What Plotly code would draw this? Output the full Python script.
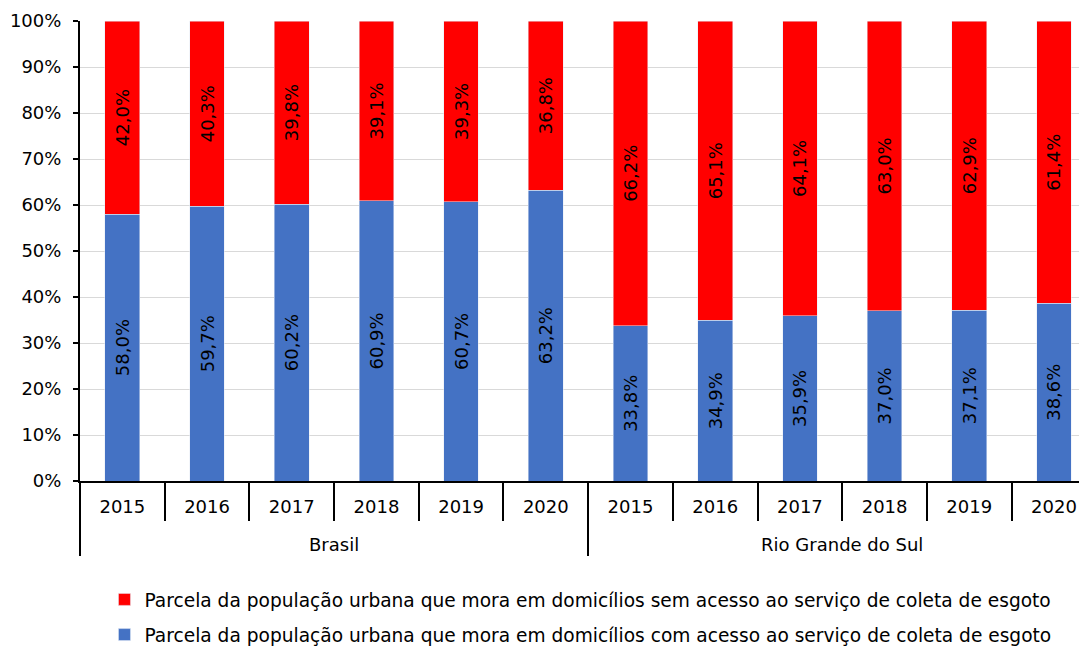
import plotly.graph_objects as go

# "<br>" puts the group label one line lower, as in the reference
regions = ["<br>Brasil"] * 6 + ["<br>Rio Grande do Sul"] * 6
years = ["2015", "2016", "2017", "2018", "2019", "2020"] * 2

com_acesso = [58.0, 59.7, 60.2, 60.9, 60.7, 63.2, 33.8, 34.9, 35.9, 37.0, 37.1, 38.6]
sem_acesso = [42.0, 40.3, 39.8, 39.1, 39.3, 36.8, 66.2, 65.1, 64.1, 63.0, 62.9, 61.4]

nome_com = "Parcela da população urbana que mora em domicílios com acesso ao serviço de coleta de esgoto"
nome_sem = "Parcela da população urbana que mora em domicílios sem acesso ao serviço de coleta de esgoto"

FONT = "DejaVu Sans"

fig = go.Figure()
fig.add_trace(go.Bar(
    x=[regions, years], y=com_acesso, name=nome_com, legendgroup="com", legendrank=2,
    marker=dict(color="#4472C4"),
    texttemplate="%{y:.1f}%", textposition="inside", textangle=-90,
    insidetextanchor="middle", textfont=dict(color="black", size=18, family=FONT),
))
fig.add_trace(go.Bar(
    x=[regions, years], y=sem_acesso, name=nome_sem, legendgroup="sem", legendrank=1,
    marker=dict(color="#FF0000"),
    texttemplate="%{y:.1f}%", textposition="inside", textangle=-90,
    insidetextanchor="middle", textfont=dict(color="black", size=18, family=FONT),
))

# the page body has an 8px margin, so the figure is sized/offset to compensate
fig.update_layout(
    barmode="stack",
    bargap=0.59,
    separators=",.",
    width=1079, height=638,
    margin=dict(l=72, r=0, t=13, b=165, autoexpand=False),
    plot_bgcolor="white", paper_bgcolor="white",
    font=dict(family=FONT, size=18, color="black"),
    legend=dict(
        orientation="v", traceorder="grouped", tracegroupgap=8,
        x=0.497, xanchor="center", y=-0.217, yanchor="top",
        font=dict(size=18.6, family=FONT), itemwidth=30,
    ),
)
fig.update_yaxes(
    range=[0, 100], dtick=10, ticksuffix="%",
    showgrid=True, gridcolor="#D9D9D9", gridwidth=1,
    showline=True, linecolor="black", linewidth=2,
    ticks="outside", tickcolor="black", ticklen=5, tickwidth=2,
    ticklabelstandoff=8,
    tickfont=dict(size=18),
)
# the reference crops the right end of the plot, so the last category is cut
fig.update_xaxes(
    range=[-0.5, 11.39],
    showline=True, linecolor="black", linewidth=2,
    ticks="outside", tickson="boundaries", tickcolor="black", ticklen=38, tickwidth=2,
    ticklabelstandoff=8,
    showdividers=True, dividercolor="black", dividerwidth=2,
    tickfont=dict(size=18),
)

fig.write_html("out.html")
